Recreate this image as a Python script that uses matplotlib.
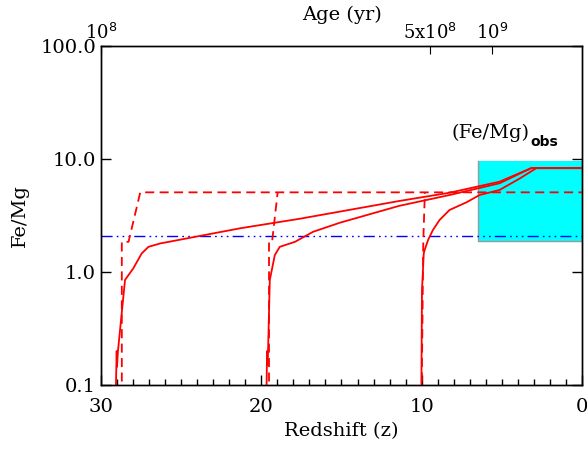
"""
Fe/Mg vs redshift, met observed box en leeftijd-as bovenaan
"""

import matplotlib.pyplot as plt

# solid tracks (z, Fe/Mg)
z_solid1 = [29.08, 29.02, 29.0, 28.94, 28.5, 27.98, 27.46, 27.04, 26.3, 21.3,
            17.6, 11.4, 8.26, 5.14, 3.17, 0.0]
fe_solid1 = [0.08, 0.20, 0.145, 0.20, 0.85, 1.08, 1.46, 1.67, 1.79, 2.44,
             2.96, 4.25, 5.03, 6.3, 8.3, 8.3]

z_solid2 = [19.68, 19.64, 19.62, 19.58, 19.47, 19.16, 18.85, 17.9, 16.77, 15.1,
            11.4, 8.26, 5.14, 3.17, 0.0]
fe_solid2 = [0.08, 0.20, 0.15, 0.20, 0.85, 1.41, 1.67, 1.85, 2.27, 2.73,
             3.85, 4.8, 6.1, 8.3, 8.3]

z_solid3 = [10.02, 9.98, 9.87, 9.81, 9.6, 9.3, 8.88, 8.26, 7.2, 6.39, 5.14, 3.9,
            2.85, 0.0]
fe_solid3 = [0.08, 0.69, 1.46, 1.57, 1.92, 2.35, 2.89, 3.54, 4.14, 4.8, 5.32, 6.7,
             8.3, 8.3]

# dashed tracks
z_dash1 = [28.7, 28.7, 28.28, 27.55, 0.0]
fe_dash1 = [0.08, 1.85, 1.85, 5.07, 5.07]
z_dash2 = [19.52, 19.52, 19.33, 18.98]
fe_dash2 = [0.08, 1.85, 1.85, 5.07]
z_dash3 = [10.0, 9.9, 9.8]
fe_dash3 = [0.08, 1.85, 5.07]

# horizontal reference level
fe_ref = 2.1

# observed range
obs_z = [6.5, 0.0]
obs_lo, obs_hi = 1.88, 9.6

# age axis
age_z = [30, 9.5, 5.6]
age_labels = ['10$^8$', '5x10$^8$', '10$^9$']

plt.rcParams['font.family'] = ['DejaVu Serif']

fig = plt.figure(figsize=(5.87, 4.5), dpi=100)
ax = fig.add_axes([0.172, 0.1444, 0.8195, 0.7534])

ax.fill_between(obs_z, obs_lo, obs_hi, color='cyan', lw=0, zorder=1)
ax.plot([obs_z[0], obs_z[0], obs_z[1]], [obs_hi, obs_lo, obs_lo],
        color='#999999', lw=1, zorder=1.5)

ax.axhline(fe_ref, color='blue', lw=1,
           linestyle=(0, (8, 3, 1.2, 3, 1.2, 3, 1.2, 3)), zorder=2)

for z, fe in [(z_solid1, fe_solid1), (z_solid2, fe_solid2), (z_solid3, fe_solid3)]:
    ax.plot(z, fe, color='red', lw=1.3, zorder=3)
for z, fe in [(z_dash1, fe_dash1), (z_dash2, fe_dash2), (z_dash3, fe_dash3)]:
    ax.plot(z, fe, color='red', lw=1.3, linestyle=(0, (5, 3)), zorder=3)

ax.set_yscale('log')
ax.set_xlim(30, 0)
ax.set_ylim(0.1, 100)
ax.set_yticks([0.1, 1, 10, 100])
ax.set_yticklabels(['0.1', '1.0', '10.0', '100.0'])
ax.set_xticks([30, 20, 10, 0])
ax.set_xticks(range(0, 31), minor=True)
ax.tick_params(which='both', direction='in', top=False, right=True, labelsize=14)
ax.tick_params(which='major', length=7, width=1)
ax.tick_params(which='minor', length=4, width=1)
ax.tick_params(axis='x', pad=9)
ax.set_xlabel('Redshift (z)', fontsize=14, labelpad=5)
ax.set_ylabel('Fe/Mg', fontsize=14, labelpad=8)

ax.text(5.7, 17.0, '(Fe/Mg)', fontsize=14, ha='center', va='center')
ax.text(3.2, 14.0, 'obs', fontsize=10, fontweight='bold', family='DejaVu Sans',
        ha='left', va='center')

top = ax.twiny()
top.set_xlim(ax.get_xlim())
top.set_xticks(age_z)
top.set_xticklabels(age_labels)
top.tick_params(direction='in', length=6, labelsize=13, pad=2)
top.minorticks_off()
top.set_xlabel('Age (yr)', fontsize=14, labelpad=2)

for a in (ax, top):
    for s in a.spines.values():
        s.set_linewidth(1)

fig.savefig('out.png', dpi=100)
